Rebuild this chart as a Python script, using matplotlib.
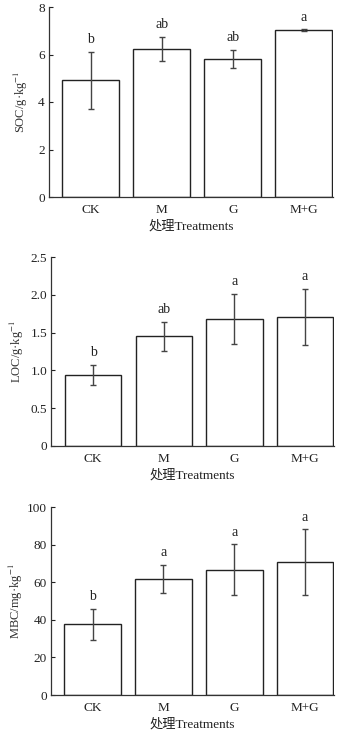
import matplotlib
matplotlib.use("Agg")
import matplotlib.pyplot as plt

plt.rcParams["font.family"] = ["Liberation Serif", "Noto Sans CJK SC"]
plt.rcParams["mathtext.fontset"] = "stix"

treatments = ["CK", "M", "G", "M+G"]

soc_mean = [4.91, 6.24, 5.81, 7.03]
soc_err = [1.2, 0.51, 0.39, 0.03]
soc_sig = ["b", "ab", "ab", "a"]

loc_mean = [0.94, 1.45, 1.68, 1.71]
loc_err = [0.135, 0.195, 0.33, 0.37]
loc_sig = ["b", "ab", "a", "a"]

mbc_mean = [37.6, 61.8, 66.6, 70.7]
mbc_err = [8.4, 7.5, 13.5, 17.5]
mbc_sig = ["b", "a", "a", "a"]

panels = [
    (soc_mean, soc_err, soc_sig, "SOC/g·kg$^{-1}$", 8, [0, 2, 4, 6, 8], ["0", "2", "4", "6", "8"]),
    (loc_mean, loc_err, loc_sig, "LOC/g·kg$^{-1}$", 2.5,
     [0, 0.5, 1.0, 1.5, 2.0, 2.5], ["0", "0.5", "1.0", "1.5", "2.0", "2.5"]),
    (mbc_mean, mbc_err, mbc_sig, "MBC/mg·kg$^{-1}$", 100,
     [0, 20, 40, 60, 80, 100], ["0", "20", "40", "60", "80", "100"]),
]

W, H = 344, 733
fig = plt.figure(figsize=(W / 100, H / 100), dpi=100)

# axes boxes in pixels: left, top, right, bottom, and the y-label centre x
boxes = [(49, 7, 333, 197, 21), (51.5, 257, 334, 446, 17), (51, 507, 334, 695, 16)]
ink = "#222222"

for (mean, err, sig, ylabel, ymax, yticks, yticklabels), (l, t, r, b, lx) in zip(panels, boxes):
    ax = fig.add_axes([l / W, 1 - b / H, (r - l) / W, (b - t) / H])
    x = range(len(treatments))
    ax.bar(x, mean, width=0.8, color="white", edgecolor=ink, linewidth=1.0)
    ax.errorbar(x, mean, yerr=err, fmt="none", ecolor="#444444", elinewidth=1.0,
                capsize=2.5, capthick=1.0)
    for xi, m, e, s in zip(x, mean, err, sig):
        ax.annotate(s, (xi, m + e), xytext=(0, 4), textcoords="offset points",
                    ha="center", va="bottom", fontsize=10, color=ink)
    ax.set_xlim(-0.59, 3.41)
    ax.set_ylim(0, ymax)
    ax.set_yticks(yticks)
    ax.set_yticklabels(yticklabels)
    ax.set_xticks(list(x))
    ax.set_xticklabels(treatments)
    ax.tick_params(axis="y", direction="in", length=3, width=0.8, labelsize=9.5,
                   colors=ink, pad=3)
    ax.tick_params(axis="x", length=0, labelsize=9.5, colors=ink, pad=5)
    for side in ["top", "right"]:
        ax.spines[side].set_visible(False)
    for side in ["left", "bottom"]:
        ax.spines[side].set_color("#333333")
        ax.spines[side].set_linewidth(0.9)
    ax.set_ylabel(ylabel, fontsize=9, color="#333333", va="center")
    ax.yaxis.set_label_coords((lx - l) / (r - l), 0.5)
    ax.set_xlabel("处理Treatments", fontsize=9.5, color=ink, labelpad=3)

fig.savefig("out.png", dpi=100)
